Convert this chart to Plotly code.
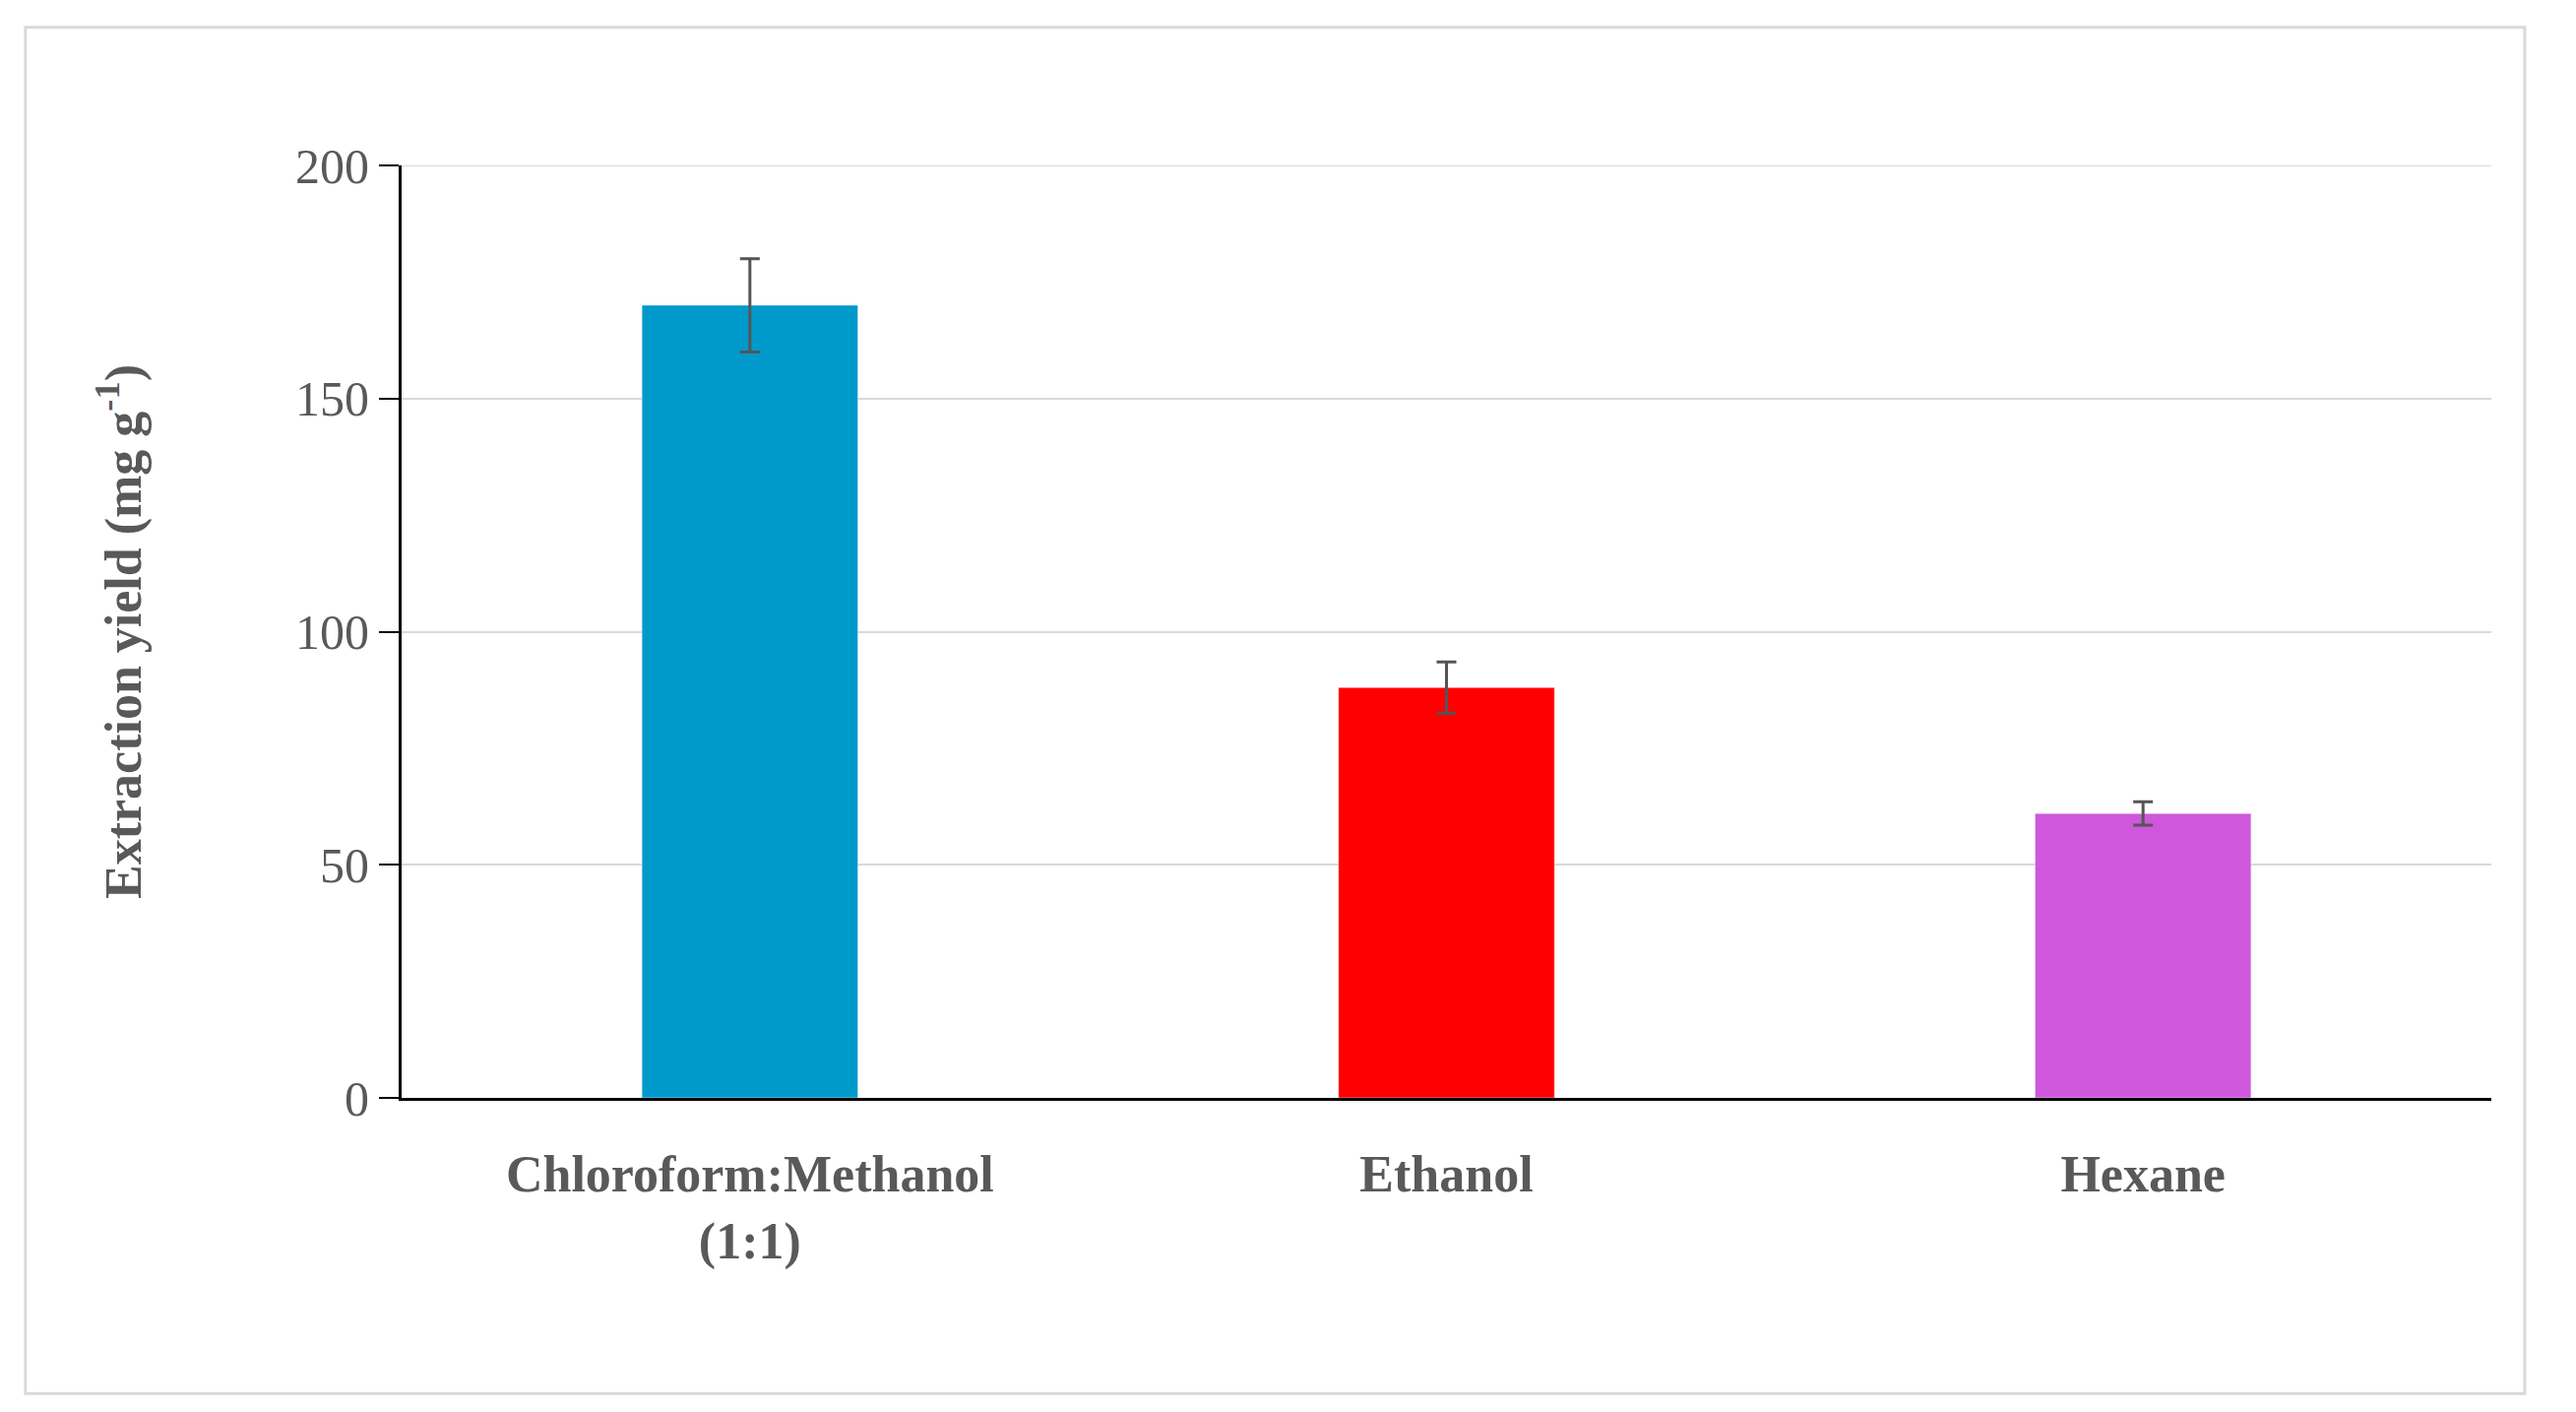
import plotly.graph_objects as go

categories = ["<b>Chloroform:Methanol<br>(1:1)</b>", "<b>Ethanol</b>", "<b>Hexane</b>"]
values = [170, 88, 61]
errors = [10, 5.5, 2.5]
colors = ["#0099CC", "#FF0000", "#CF57DB"]

fig = go.Figure(go.Bar(
    x=categories, y=values, marker_color=colors, width=0.31,
    error_y=dict(type="data", array=errors, color="#555555", thickness=3, width=10),
))
font = "Liberation Serif"
fig.update_layout(
    width=2617, height=1434, paper_bgcolor="white", plot_bgcolor="white",
    margin=dict(l=400, r=94, t=160, b=327),
    showlegend=False,
    font=dict(family=font, color="#595959"),
    shapes=[dict(type="rect", xref="paper", yref="paper", x0=-0.180, x1=1.016, y0=-0.317, y1=1.148,
                 line=dict(color="#D9D9D9", width=3)),
            dict(type="line", xref="paper", yref="y", x0=0, x1=1, y0=200, y1=200,
                 line=dict(color="#D9D9D9", width=2), layer="below")],
)
fig.update_yaxes(range=[0, 200], tickvals=[0, 50, 100, 150, 200], showgrid=True, gridcolor="#D9D9D9",
                 gridwidth=2, showline=True, linecolor="black", linewidth=3, ticks="outside",
                 ticklen=20, tickcolor="black", tickwidth=2, tickfont=dict(size=50, color="#595959"),
                 title=dict(text="<b>Extraction yield (mg g<sup>-1</sup>)</b>", font=dict(size=52, color="#595959"), standoff=140))
fig.update_xaxes(showline=True, linecolor="black", linewidth=3, ticklabelstandoff=30,
                 tickfont=dict(size=52, color="#595959"))
fig.write_html("out.html")
